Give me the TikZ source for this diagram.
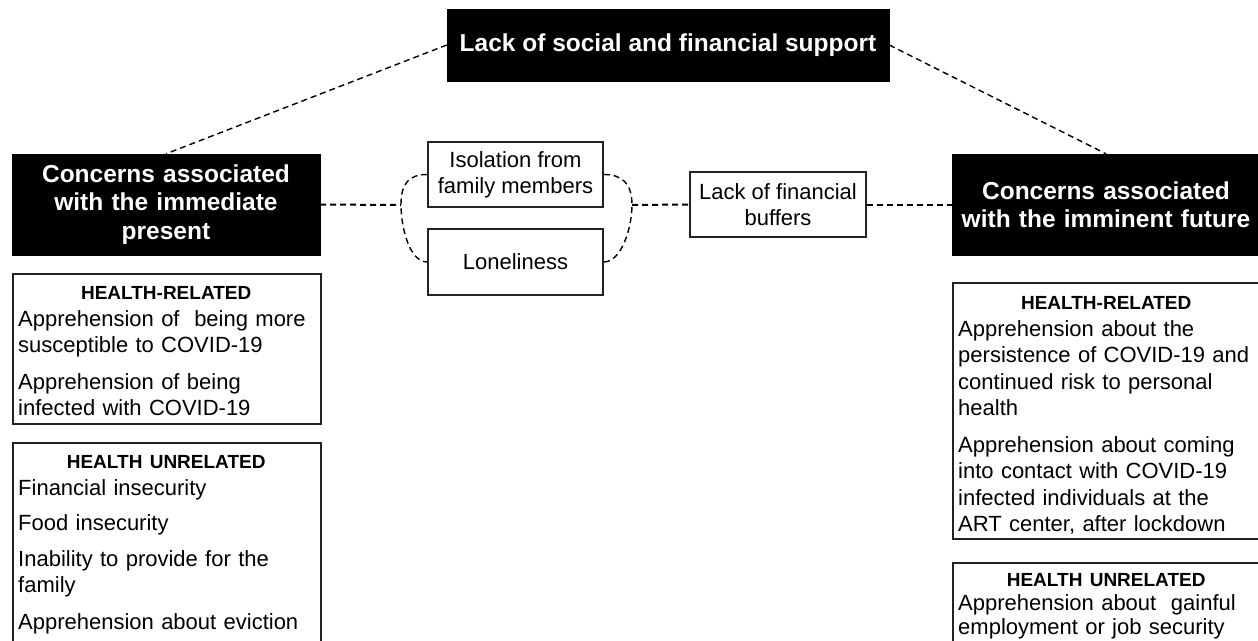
\documentclass[tikz,border=0pt]{standalone}
\usepackage{fontspec}
\setmainfont{Liberation Sans}
\usetikzlibrary{positioning}

\newcommand{\listHead}[1]{\makebox[296pt]{\fontsize{19}{22}\selectfont\bfseries #1}}

\begin{document}
\begin{tikzpicture}[x=1pt, y=-1pt,
    headBox/.style={fill=black, draw=black, text=white, align=center, inner sep=0pt,
        font=\fontsize{24.5}{28.5}\selectfont\bfseries},
    itemBox/.style={draw=borderColour, line width=1.5pt, minimum width=175pt, minimum height=65pt,
        align=center, inner sep=0pt, font=\fontsize{22}{26}\selectfont},
    listBox/.style={draw=borderColour, line width=1.5pt, minimum width=308pt, anchor=north west, inner sep=0pt},
    listText/.style={text width=296pt, align=left, anchor=north west, inner sep=0pt,
        font=\fontsize{22}{26.5}\selectfont},
    dashLine/.style={draw=black, line width=2pt, dash pattern=on 6pt off 4pt},
    thinDash/.style={dashLine, line width=1.4pt}]

    \definecolor{borderColour}{HTML}{222222}

    % Page frame
    \useasboundingbox (0,0) rectangle (1258,640);
    \clip (0,0) rectangle (1258,640);

    % Black headers
    \node[headBox, minimum width=442pt, minimum height=72pt] (support) at (668,45) {Lack of social and financial support};
    \node[headBox, minimum width=308pt, minimum height=101pt, text width=300pt] (present) at (166,204.5) {Concerns associated\\with the immediate\\present};
    \node[headBox, minimum width=308pt, minimum height=101pt, text width=300pt] (future) at (1106,204.5) {Concerns associated\\with the imminent future};

    % Middle boxes
    \node[itemBox] (isolation) at (515.5,174.5) {Isolation from\\family members};
    \node[itemBox, minimum height=66pt] (loneliness) at (515.5,262) {Loneliness};
    \node[itemBox, minimum width=176pt] (buffers) at (778,204.5) {Lack of financial\\buffers};

    % List boxes
    \node[listBox, minimum height=150pt] (relPresent) at (12,273) {};
    \node[listBox, minimum height=240pt] (unrelPresent) at (12,442) {};
    \node[listBox, minimum height=256pt] (relFuture) at (952,282) {};
    \node[listBox, minimum height=120pt] (unrelFuture) at (952,562) {};

    % List texts
    \node[listText] (relPresentText) at (18,286.4) {\listHead{HEALTH-RELATED}\\
        Apprehension of\ \ being more\\susceptible to COVID-19\\[10pt]
        Apprehension of being\\infected with COVID-19};
    \node[listText] (unrelPresentText) at (18,455.4) {\listHead{HEALTH UNRELATED}\\
        Financial insecurity\\[9pt]
        Food insecurity\\[9pt]
        Inability to provide for the\\family\\[10pt]
        Apprehension about eviction};
    \node[listText] (relFutureText) at (958,296.4) {\listHead{HEALTH-RELATED}\\
        Apprehension about the\\persistence of COVID-19 and\\continued risk to personal\\health\\[10pt]
        Apprehension about coming\\into contact with COVID-19\\infected individuals at the\\ART center, after lockdown};
    \node[listText] (unrelFutureText) at (958,573.4) {\listHead{HEALTH UNRELATED}\\[-3pt]
        Apprehension about\ \ gainful\\[-2pt]employment or job security};

    % Bend points of the brackets
    \coordinate (leftBend) at (401,205);
    \coordinate (rightBend) at (632,205);

    % Draw connectors
    \draw[thinDash] (support.west) -- (present.north);
    \draw[thinDash] (support.east) -- (future.north);
    \draw[dashLine] (present.east) -- (leftBend);
    \draw[thinDash] (isolation.west) .. controls +(-18,0) and +(0,-22) .. (leftBend)
        .. controls +(0,22) and +(-18,0) .. (loneliness.west);
    \draw[thinDash] (isolation.east) .. controls +(18,0) and +(0,-22) .. (rightBend)
        .. controls +(0,22) and +(18,0) .. (loneliness.east);
    \draw[dashLine] (rightBend) -- (buffers.west);
    \draw[dashLine] (buffers.east) -- (future.west);

\end{tikzpicture}
\end{document}
